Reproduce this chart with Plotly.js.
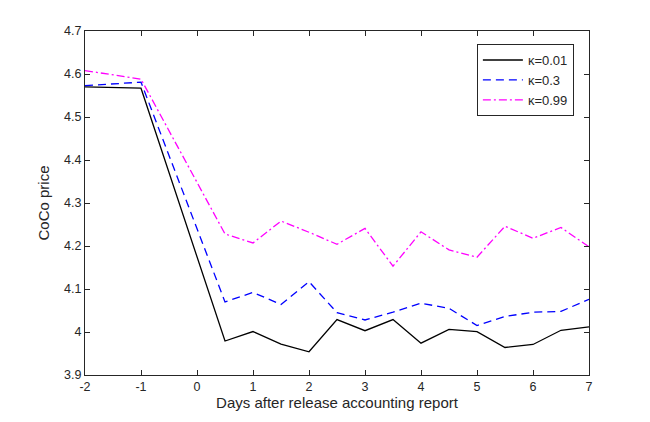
<!DOCTYPE html>
<html>
<head>
<meta charset="utf-8">
<script src="https://cdn.plot.ly/plotly-3.0.1.min.js"></script>
<style>
  html, body { margin: 0; padding: 0; background: #fff; }
  #chart { width: 650px; height: 422px; }
</style>
</head>
<body>
<div id="chart"></div>
<script>
// ── Datos ─────────────────────────────────────────────────────────────────
const days = [-2, -1, 0.5, 1, 1.5, 2, 2.5, 3, 3.5, 4, 4.5, 5, 5.5, 6, 6.5, 7];

const kappa001 = [4.570, 4.567, 3.979, 4.001, 3.972, 3.954, 4.029, 4.003, 4.029, 3.974,
                  4.006, 4.001, 3.964, 3.971, 4.004, 4.012];
const kappa03  = [4.573, 4.581, 4.070, 4.092, 4.064, 4.117, 4.045, 4.028, 4.046, 4.067,
                  4.055, 4.015, 4.036, 4.046, 4.048, 4.076];
const kappa099 = [4.608, 4.588, 4.228, 4.207, 4.258, 4.232, 4.204, 4.241, 4.153, 4.233,
                  4.191, 4.174, 4.246, 4.218, 4.243, 4.198];

const seriesNames = ['κ=0.01', 'κ=0.3', 'κ=0.99'];
const xTicks = [-2, -1, 0, 1, 2, 3, 4, 5, 6, 7];
const yTicks = [3.9, 4, 4.1, 4.2, 4.3, 4.4, 4.5, 4.6, 4.7];

const axisColor = '#262626';
const fontFam   = 'Liberation Sans, Arial, sans-serif';

function line(y, name, color, dash) {
  return {
    type: 'scatter',
    mode: 'lines',
    x: days,
    y: y,
    name: name,
    line: { color: color, width: 1.3, dash: dash }
  };
}

const traces = [
  line(kappa001, seriesNames[0], '#000000', 'solid'),
  line(kappa03,  seriesNames[1], '#0000ff', '8px,5px'),
  line(kappa099, seriesNames[2], '#ff00ff', '8px,3px,2px,3px')
];

const axisBase = {
  showgrid: false,
  zeroline: false,
  showline: true,
  linecolor: axisColor,
  linewidth: 1,
  mirror: 'ticks',
  ticks: 'inside',
  ticklen: 5,
  tickcolor: axisColor,
  tickwidth: 1,
  tickfont: { family: fontFam, size: 12.5, color: axisColor }
};

const layout = {
  width: 650,
  height: 422,
  paper_bgcolor: '#ffffff',
  plot_bgcolor:  '#ffffff',
  margin: { l: 85, r: 61, t: 31, b: 47 },
  showlegend: true,
  legend: {
    x: 0.970, y: 0.962,
    xanchor: 'right', yanchor: 'top',
    bgcolor: '#ffffff',
    bordercolor: axisColor,
    borderwidth: 1,
    tracegroupgap: 0,
    itemwidth: 40,
    font: { family: fontFam, size: 13, color: axisColor }
  },
  xaxis: Object.assign({}, axisBase, {
    range: [-2, 7],
    tickvals: xTicks,
    ticktext: xTicks.map(String),
    title: {
      text: 'Days after release accounting report',
      standoff: 4,
      font: { family: fontFam, size: 15, color: axisColor }
    }
  }),
  yaxis: Object.assign({}, axisBase, {
    range: [3.9, 4.7],
    tickvals: yTicks,
    ticktext: yTicks.map(v => String(v)),
    title: {
      text: 'CoCo price',
      standoff: 10,
      font: { family: fontFam, size: 15, color: axisColor }
    }
  })
};

Plotly.newPlot('chart', traces, layout, { displayModeBar: false, staticPlot: true });
</script>
</body>
</html>
